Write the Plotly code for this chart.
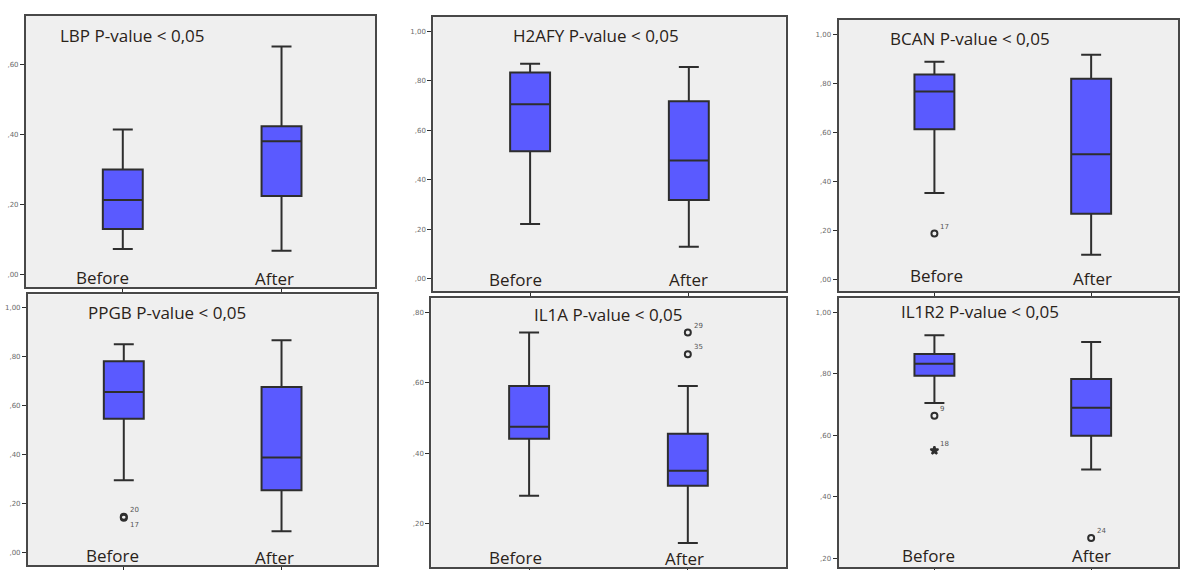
import plotly.graph_objects as go

W, H = 1180, 570

groups = ["Before", "After"]

titles = ["LBP P-value < 0,05", "H2AFY P-value < 0,05", "BCAN P-value < 0,05",
          "PPGB P-value < 0,05", "IL1A P-value < 0,05", "IL1R2 P-value < 0,05"]

# five-number summaries per gene: [Before, After]
lower = [[0.073, 0.068], [0.221, 0.129], [0.353, 0.101],
         [0.296, 0.089], [0.279, 0.144], [0.705, 0.488]]
q1 = [[0.130, 0.224], [0.515, 0.318], [0.613, 0.268],
      [0.547, 0.255], [0.441, 0.307], [0.793, 0.598]]
median = [[0.213, 0.380], [0.705, 0.477], [0.767, 0.511],
          [0.656, 0.389], [0.475, 0.350], [0.832, 0.689]]
q3 = [[0.300, 0.423], [0.833, 0.717], [0.836, 0.819],
      [0.781, 0.676], [0.591, 0.455], [0.864, 0.783]]
upper = [[0.414, 0.651], [0.869, 0.855], [0.888, 0.917],
         [0.850, 0.866], [0.743, 0.591], [0.925, 0.903]]

# outlying cases: (panel, group, value, case id, symbol)
outliers = [
    (2, "Before", 0.187, "17", "circle-open"),
    (3, "Before", 0.148, "20", "circle-open"),
    (3, "Before", 0.143, "17", "circle-open"),
    (4, "After", 0.743, "29", "circle-open"),
    (4, "After", 0.681, "35", "circle-open"),
    (5, "Before", 0.663, "9", "circle-open"),
    (5, "Before", 0.550, "18", "star"),
    (5, "After", 0.265, "24", "circle-open"),
]

ytickvals = [[0.0, 0.2, 0.4, 0.6],
             [0.0, 0.2, 0.4, 0.6, 0.8, 1.0],
             [0.0, 0.2, 0.4, 0.6, 0.8, 1.0],
             [0.0, 0.2, 0.4, 0.6, 0.8, 1.0],
             [0.2, 0.4, 0.6, 0.8],
             [0.2, 0.4, 0.6, 0.8, 1.0]]
yranges = [[-0.037, 0.738], [-0.052, 1.058], [-0.049, 1.059],
           [-0.049, 1.053], [0.076, 0.840], [0.171, 1.045]]

# panel frames in pixels: (left, top, right, bottom), centre x of each box
frames = [(26, 16, 376, 289), (434, 17, 787, 293), (840, 20, 1180, 293),
          (28, 296, 378, 568), (432, 300, 787, 570), (840, 300, 1180, 570)]
centres = [(123, 282), (531, 690), (936, 1093), (124, 282), (530, 689), (936, 1093)]

# panel titles: (x, y, anchor)
title_pos = [(58, 36, "left"), (597, 36, "center"), (890, 39, "left"),
             (86, 314, "left"), (610, 316, "center"), (901, 313, "left")]
# group labels inside each panel
label_pos = [((103, 279), (275, 280)), ((516, 281), (690, 281)), ((938, 277), (1094, 280)),
             ((113, 558), (275, 560)), ((516, 560), (686, 561)), ((930, 558), (1093, 558))]

BOX_FILL = "#5a5aff"
EDGE = "#2e2e2e"
TEXT = "#2a2219"


def px(x):
    return x / W


def py(y):
    return 1 - y / H


fig = go.Figure()
layout = {}
annotations = []

for i in range(6):
    n = "" if i == 0 else str(i + 1)
    xa, ya = "x" + n, "y" + n
    left, top, right, bottom = frames[i]
    cb, ca = centres[i]
    unit = ca - cb

    fig.add_trace(go.Box(
        x=groups, q1=q1[i], median=median[i], q3=q3[i],
        lowerfence=lower[i], upperfence=upper[i],
        xaxis=xa, yaxis=ya, width=40 / unit, whiskerwidth=0.5,
        fillcolor=BOX_FILL, line=dict(color=EDGE, width=2),
        boxpoints=False, hoverinfo="skip", showlegend=False,
    ))

    pts = [o for o in outliers if o[0] == i]
    if pts:
        fig.add_trace(go.Scatter(
            x=[o[1] for o in pts], y=[o[2] for o in pts],
            mode="markers", xaxis=xa, yaxis=ya,
            marker=dict(symbol=[o[4] for o in pts], size=6, color=EDGE,
                        line=dict(color=EDGE, width=2)),
            hoverinfo="skip", showlegend=False,
        ))
        for k, o in enumerate(pts):
            below = k > 0 and abs(o[2] - pts[k - 1][2]) < 0.02
            annotations.append(dict(
                x=o[1], y=o[2], xref=xa, yref=ya, text=o[3], showarrow=False,
                xanchor="left", yanchor="top" if below else "bottom",
                xshift=4, yshift=-1 if below else 1,
                font=dict(size=7, color="#555555", family="DejaVu Sans"),
            ))

    layout["xaxis" + n] = dict(
        domain=[px(left), px(right)], anchor=ya,
        range=[-(cb - left) / unit, 1 + (right - ca) / unit],
        type="category", categoryorder="array", categoryarray=groups,
        showticklabels=False, ticks="outside", ticklen=3, tickcolor=EDGE,
        showline=True, mirror=True, linecolor="#484848", linewidth=2,
        showgrid=False, zeroline=False, fixedrange=True,
    )
    layout["yaxis" + n] = dict(
        domain=[py(bottom), py(top)], anchor=xa, range=yranges[i],
        tickvals=ytickvals[i],
        ticktext=[("%.2f" % v).replace("0.", ",").replace("1.", "1,") for v in ytickvals[i]],
        ticks="outside", ticklen=4, tickcolor=EDGE,
        tickfont=dict(size=7, color="#6a6a6a", family="DejaVu Sans"),
        showline=True, mirror=True, linecolor="#484848", linewidth=2,
        showgrid=False, zeroline=False, fixedrange=True,
    )

    tx, ty, anc = title_pos[i]
    annotations.append(dict(
        x=px(tx), y=py(ty), xref="paper", yref="paper", text=titles[i],
        showarrow=False, xanchor=anc, yanchor="middle",
        font=dict(size=17, color=TEXT, family="Open Sans"),
    ))
    for g, (lx, ly) in zip(groups, label_pos[i]):
        annotations.append(dict(
            x=px(lx), y=py(ly), xref="paper", yref="paper", text=g,
            showarrow=False, xanchor="center", yanchor="middle",
            font=dict(size=17, color=TEXT, family="Open Sans"),
        ))

fig.update_layout(
    width=W, height=H, margin=dict(l=0, r=0, t=0, b=0),
    paper_bgcolor="white", plot_bgcolor="#efefef",
    annotations=annotations, **layout,
)

fig.write_html("out.html")
